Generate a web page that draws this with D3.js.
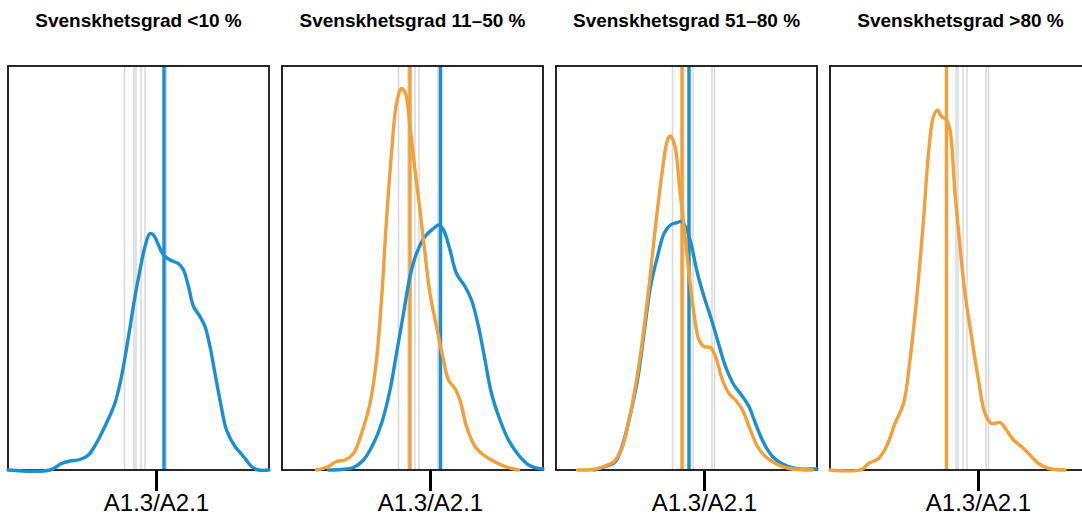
<!DOCTYPE html>
<html>
<head>
<meta charset="utf-8">
<script src="https://cdn.jsdelivr.net/npm/d3@7"></script>
<style>
  body { margin: 0; background: #fff; }
  svg { display: block; font-family: "Liberation Sans", Arial, sans-serif; }
</style>
</head>
<body>
<div id="container"></div>
<script>
let w = 1082;
let h = 515;

// panel layout
let panelLeft = 8;
let panelStep = 274;
let panelW = 261;
let panelTop = 66;
let panelH = 404;

let blue = "#1a90d0";
let orange = "#f1a03a";
let grey = "#d8d8d8";

// --- data (score, density) ---
const panelTitles = ["Svenskhetsgrad <10 %", "Svenskhetsgrad 11–50 %", "Svenskhetsgrad 51–80 %", "Svenskhetsgrad >80 %"];

const levelTick = 29.6;
const levelLabel = "A1.3/A2.1";

const p1Blue = [[0,0],[8.4,0],[10.7,0.0013],[12.4,0.0018],[14.4,0.0021],[16.1,0.0030],[17.7,0.0054],[19.7,0.0094],[21.4,0.0134],[22.7,0.0187],[24.1,0.0267],[25.4,0.0347],[26.4,0.0400],[27.4,0.0447],[28.4,0.0473],[29.1,0.0470],[30.1,0.0450],[31.1,0.0430],[32.4,0.0420],[34.1,0.0413],[35.1,0.0400],[36.1,0.0367],[37.1,0.0327],[38.4,0.0307],[39.4,0.0287],[40.4,0.0247],[41.4,0.0193],[42.4,0.0140],[43.7,0.0080],[45.4,0.0047],[47.1,0.0027],[48.7,0.0007],[50.1,0],[52.2,0]];

const p2Orange = [[6.9,0],[9.3,0.0007],[10.9,0.0017],[12.6,0.0020],[14.3,0.0033],[15.9,0.0073],[17.6,0.0133],[18.9,0.0220],[19.9,0.0340],[20.9,0.0500],[21.9,0.0633],[22.9,0.0733],[23.9,0.0763],[24.7,0.0753],[25.6,0.0687],[26.6,0.0600],[27.6,0.0520],[28.6,0.0433],[29.6,0.0353],[30.9,0.0287],[32.3,0.0220],[33.3,0.0180],[34.6,0.0163],[35.6,0.0140],[36.9,0.0087],[38.6,0.0047],[40.3,0.0030],[41.9,0.0020],[44.6,0.0007],[47.3,0]];

const p2Blue = [[9.3,0],[11.9,0.0001],[14.3,0.0005],[16.3,0.0020],[18.3,0.0053],[19.9,0.0093],[21.6,0.0160],[22.9,0.0233],[24.3,0.0313],[25.6,0.0387],[26.9,0.0433],[28.6,0.0467],[30.3,0.0483],[31.3,0.0490],[32.3,0.0480],[33.6,0.0440],[34.9,0.0393],[36.6,0.0367],[37.9,0.0340],[39.3,0.0287],[40.6,0.0220],[41.9,0.0153],[43.6,0.0100],[45.3,0.0060],[47.3,0.0030],[49.3,0.0010],[51.3,0.0003],[52.2,0.0002]];

const p3Orange = [[4.3,0],[7.3,0.0001],[9.6,0.0007],[11.6,0.0017],[13.3,0.0047],[14.6,0.0100],[15.9,0.0167],[17.3,0.0260],[18.6,0.0367],[19.9,0.0487],[21.3,0.0600],[22.3,0.0660],[22.9,0.0668],[23.8,0.0647],[24.7,0.0567],[25.6,0.0487],[26.6,0.0393],[27.6,0.0313],[28.6,0.0260],[29.6,0.0247],[30.9,0.0245],[31.9,0.0227],[33.3,0.0180],[34.6,0.0153],[35.9,0.0140],[37.3,0.0120],[38.6,0.0087],[40.3,0.0047],[41.9,0.0027],[43.9,0.0013],[46.6,0.0003],[51.3,0]];

const p3Blue = [[7.6,0],[9.9,0.0007],[11.9,0.0017],[13.6,0.0060],[14.9,0.0113],[16.3,0.0180],[17.6,0.0273],[18.9,0.0367],[20.3,0.0427],[21.6,0.0473],[22.9,0.0490],[24.3,0.0495],[25.1,0.0497],[25.9,0.0487],[26.9,0.0457],[28.3,0.0393],[29.6,0.0347],[30.9,0.0307],[32.3,0.0260],[33.9,0.0207],[35.6,0.0170],[37.3,0.0147],[38.6,0.0127],[39.9,0.0093],[41.6,0.0053],[43.3,0.0027],[45.3,0.0012],[47.9,0.0003],[51.6,0.0002],[52.2,0.0002]];

const p4Orange = [[0,0],[6.3,0.0001],[7.7,0.0013],[9.7,0.0023],[11.3,0.0047],[13,0.0093],[14.7,0.0133],[16,0.0220],[17.3,0.0340],[18.7,0.0500],[19.7,0.0633],[20.7,0.0707],[21.5,0.0720],[22.3,0.0707],[23.3,0.0700],[24,0.0680],[25,0.0553],[26,0.0447],[27,0.0353],[28.3,0.0267],[29.7,0.0180],[31,0.0113],[32.3,0.0093],[34,0.0095],[35.3,0.0080],[36.7,0.0060],[38.3,0.0047],[40,0.0030],[41.7,0.0013],[43.7,0.0003],[47,0]];

const blueCurves = [p1Blue, p2Blue, p3Blue, null];
const orangeCurves = [null, p2Orange, p3Orange, p4Orange];
const blueMeans = [31.2, 31.7, 26.6, null];
const orangeMeans = [null, 25.6, 25.2, 23.3];
const otherMeans = [27.4]; // group without a drawn curve

let allMeans = blueMeans.concat(orangeMeans, otherMeans).filter(d => d != null);

let viz = d3.select("#container")
  .append("svg")
  .attr("width", w)
  .attr("height", h);

let xScale = d3.scaleLinear().domain([0, 52.2]).range([0, panelW]);
let yScale = d3.scaleLinear().domain([0, 0.0808]).range([panelH, 0]);

let line = d3.line()
  .x(d => xScale(d[0]))
  .y(d => Math.min(panelH, yScale(d[1])))
  .curve(d3.curveCatmullRom.alpha(0.5));

panelTitles.forEach(function (title, i) {
  let g = viz.append("g")
    .attr("transform", `translate(${panelLeft + i * panelStep},${panelTop})`);

  viz.append("text")
    .attr("x", panelLeft + i * panelStep + panelW / 2)
    .attr("y", 27)
    .attr("text-anchor", "middle")
    .attr("font-size", 19)
    .attr("font-weight", "bold")
    .text(title);

  // every group mean in grey
  g.selectAll(".ref").data(allMeans).enter()
    .append("line")
    .attr("class", "ref")
    .attr("x1", d => xScale(d))
    .attr("x2", d => xScale(d))
    .attr("y1", 0)
    .attr("y2", panelH)
    .attr("stroke", grey)
    .attr("stroke-width", 1.5);

  // this panel's own means
  let own = [[orangeMeans[i], orange], [blueMeans[i], blue]].filter(d => d[0] != null);
  g.selectAll(".mean").data(own).enter()
    .append("line")
    .attr("class", "mean")
    .attr("x1", d => xScale(d[0]))
    .attr("x2", d => xScale(d[0]))
    .attr("y1", 0)
    .attr("y2", panelH)
    .attr("stroke", d => d[1])
    .attr("stroke-width", 3.5);

  g.append("rect")
    .attr("width", panelW)
    .attr("height", panelH)
    .attr("fill", "none")
    .attr("stroke", "#111")
    .attr("stroke-width", 1.8);

  let curves = [[blueCurves[i], blue], [orangeCurves[i], orange]].filter(d => d[0] != null);
  g.selectAll(".dens").data(curves).enter()
    .append("path")
    .attr("class", "dens")
    .attr("d", d => line(d[0]))
    .attr("fill", "none")
    .attr("stroke", d => d[1])
    .attr("stroke-width", 3.4)
    .attr("stroke-linejoin", "round")
    .attr("stroke-linecap", "round");

  let axis = d3.axisBottom(xScale)
    .tickValues([levelTick])
    .tickFormat(() => levelLabel)
    .tickSize(21)
    .tickPadding(3);

  let ax = g.append("g")
    .attr("transform", `translate(0,${panelH})`)
    .call(axis);
  ax.select(".domain").remove();
  ax.selectAll(".tick line").attr("stroke", "#000").attr("stroke-width", 3);
  ax.selectAll(".tick text")
    .attr("font-size", 24)
    .attr("font-family", "Liberation Sans, Arial, sans-serif")
    .attr("fill", "#000");
});
</script>
</body>
</html>
